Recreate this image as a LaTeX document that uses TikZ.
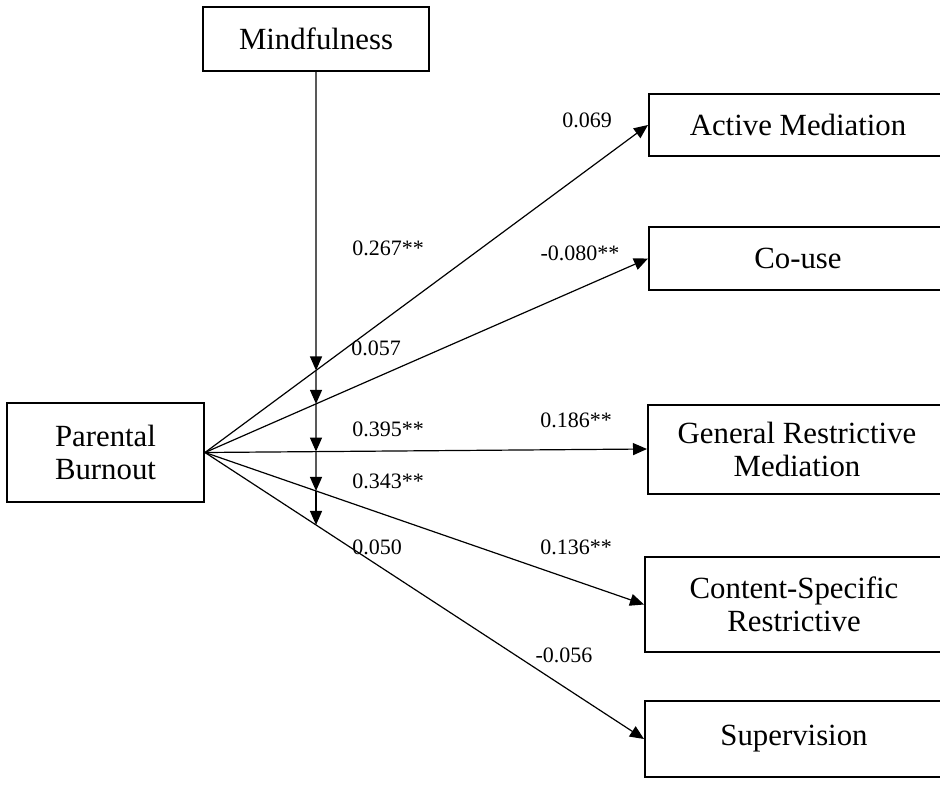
\documentclass[tikz,border=0pt]{standalone}
\usepackage{fontspec}
\setmainfont{Liberation Serif}
\usetikzlibrary{arrows.meta}

\begin{document}
\begin{tikzpicture}[x=0.5pt, y=-0.5pt, >={Triangle[length=7pt,width=6pt]},
  var/.style={draw, line width=1pt, inner sep=0pt, align=center, font=\fontsize{15.4}{16.5}\selectfont},
  coef/.style={inner sep=0pt, font=\fontsize{11}{13}\selectfont},
  path/.style={->, line width=0.6pt}]
\useasboundingbox (0,0) rectangle (940,785);
\node[var, minimum width=113pt, minimum height=32pt] (mf) at (316,39) {Mindfulness};
\node[var, minimum width=98.5pt, minimum height=49.5pt] (pb) at (105.5,452.5) {Parental\\Burnout};
\node[var, minimum width=149pt, minimum height=31pt] (am) at (798,125) {Active Mediation};
\node[var, minimum width=149pt, minimum height=31.5pt] (cu) at (798,258.5) {Co-use};
\node[var, minimum width=149pt, minimum height=44.5pt] (gr) at (797,449) {General Restrictive\\Mediation};
\node[var, minimum width=149pt, minimum height=47.5pt] (cs) at (794,604.5) {Content-Specific\\Restrictive};
\node[var, minimum width=149pt, minimum height=38pt] (sv) at (794,739) {Supervision};
% direct paths from burnout
\foreach \t in {am,cu,gr,cs,sv}
  \draw[path] (pb.east) -- (\t.west);
% moderation by mindfulness
\coordinate (mfend) at (316,785);
\coordinate (i1) at (intersection of pb.east--am.west and mf.south--mfend);
\coordinate (i2) at (intersection of pb.east--cu.west and mf.south--mfend);
\coordinate (i3) at (intersection of pb.east--gr.west and mf.south--mfend);
\coordinate (i4) at (intersection of pb.east--cs.west and mf.south--mfend);
\coordinate (i5) at (intersection of pb.east--sv.west and mf.south--mfend);
\draw[path] (mf.south) -- (i1);
\draw[path] (i1) -- (i2);
\draw[path] (i2) -- (i3);
\draw[path] (i3) -- (i4);
\draw[path] (i4) -- (i5);
% coefficients
\node[coef] (c1) at (587,120) {0.069};
\node[coef] (c2) at (388,248) {0.267**};
\node[coef] (c3) at (580,253) {-0.080**};
\node[coef] (c4) at (376,348) {0.057};
\node[coef] (c5) at (388,429) {0.395**};
\node[coef] (c6) at (576,420) {0.186**};
\node[coef] (c7) at (388,481) {0.343**};
\node[coef] (c8) at (377,547) {0.050};
\node[coef] (c9) at (576,547) {0.136**};
\node[coef] (c10) at (564,655) {-0.056};
\end{tikzpicture}
\end{document}
